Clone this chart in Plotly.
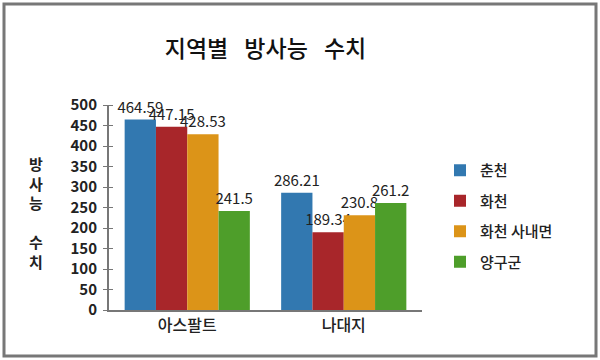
import plotly.graph_objects as go

categories = ["아스팔트", "나대지"]
series_names = ["춘천", "화천", "화천 사내면", "양구군"]
chuncheon = [464.59, 286.21]
hwacheon = [447.15, 189.34]
hwacheon_sanae = [428.53, 230.8]
yanggu = [241.5, 261.2]
y_ticks = [0, 50, 100, 150, 200, 250, 300, 350, 400, 450, 500]

series_values = [chuncheon, hwacheon, hwacheon_sanae, yanggu]
colors = ["#3278B0", "#A8262A", "#DC9418", "#4E9E2A"]

FONT = "Noto Sans CJK KR, Noto Sans, sans-serif"

fig = go.Figure()
for name, vals, col in zip(series_names, series_values, colors):
    fig.add_trace(go.Bar(
        x=categories, y=vals, name=name, legendgroup=name,
        marker=dict(color=col, line=dict(width=0)),
        text=[str(v) for v in vals],
        textposition="outside",
        constraintext="none",
        textfont=dict(size=15, color="#222", family=FONT),
        cliponaxis=False,
    ))

L, R, T, B = 109, 178, 105, 50
W, H = 600, 360
pw, ph = W - L - R, H - T - B

def px_x(x):
    return (x - L) / pw

def px_y(y):
    return (H - B - y) / ph

fig.update_layout(
    width=W, height=H,
    margin=dict(l=L, r=R, t=T, b=B),
    paper_bgcolor="white", plot_bgcolor="white",
    barmode="group", bargap=0.2, bargroupgap=0,
    font=dict(family=FONT, color="#222"),
    title=dict(text="지역별\u2002\u2009방사능\u2002\u2009수치", x=0.5, xref="paper", xanchor="center",
               y=1 - 49 / H, yanchor="middle",
               font=dict(size=23, color="#111", family=FONT, weight=500)),
    xaxis=dict(showline=True, linecolor="#777", linewidth=2, ticks="",
               tickfont=dict(size=16, color="#222", family=FONT, weight=500),
               showgrid=False, fixedrange=True),
    yaxis=dict(range=[0, 500], tickvals=y_ticks, showline=True, linecolor="#777",
               linewidth=2, showgrid=False, zeroline=False,
               ticks="outside", ticklen=4, tickwidth=1, tickcolor="#777",
               minor=dict(tickvals=y_ticks, ticks="inside", ticklen=4, tickwidth=1, tickcolor="#777"),
               ticklabelstandoff=3,
               tickfont=dict(size=15, color="#222", family=FONT, weight=600)),
    legend=dict(x=px_x(440), y=px_y(154), xanchor="left", yanchor="top",
                font=dict(size=15, color="#222", family=FONT, weight=500),
                tracegroupgap=8, itemwidth=30, bgcolor="rgba(0,0,0,0)"),
    annotations=[dict(text="방<br>사<br>능<br><br>수<br>치", xref="paper", yref="paper",
                      x=px_x(36), y=px_y(212), xanchor="center", yanchor="middle",
                      showarrow=False,
                      font=dict(size=15, color="#222", family=FONT, weight=600))],
    shapes=[dict(type="rect", xref="paper", yref="paper",
                 x0=px_x(4), x1=px_x(596), y0=px_y(356), y1=px_y(4),
                 line=dict(color="#777", width=3), fillcolor="rgba(0,0,0,0)", layer="below")],
)

fig.write_html("out.html", config={"displayModeBar": False},
               post_script="document.body.style.margin='0';")
